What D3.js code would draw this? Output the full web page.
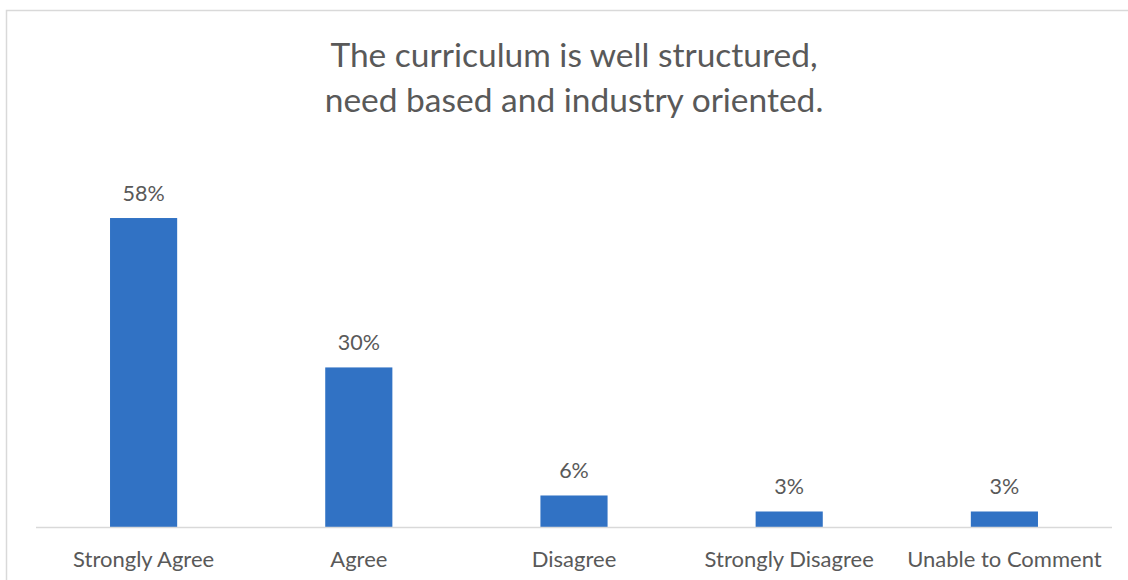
<!DOCTYPE html>
<html>
<head>
<meta charset="utf-8">
<script src="https://cdn.jsdelivr.net/npm/d3@7"></script>
<style>
  html, body { margin: 0; padding: 0; background: #ffffff; }
  svg { display: block; }
  text { font-family: Lato, "Open Sans", sans-serif; fill: #595959; }
</style>
</head>
<body>
<svg id="chart" width="1128" height="580"></svg>
<script>
const categories = ["Strongly Agree", "Agree", "Disagree", "Strongly Disagree", "Unable to Comment"];
const values = [58, 30, 6, 3, 3];
const valueLabels = ["58%", "30%", "6%", "3%", "3%"];
const titleLines = ["The curriculum is well structured,", "need based and industry oriented."];

const W = 1128, H = 580;
const plot = { left: 36, right: 1112, top: 154, bottom: 527.5 };

const svg = d3.select("#chart");

// chart border
svg.append("rect")
  .attr("x", 6.5).attr("y", 10.5)
  .attr("width", W + 20).attr("height", H + 20)
  .attr("fill", "none").attr("stroke", "#d9d9d9").attr("stroke-width", 1.5);

const x = d3.scaleBand()
  .domain(categories)
  .range([plot.left, plot.right])
  .paddingInner(0.688)
  .paddingOuter(0.344);

const y = d3.scaleLinear()
  .domain([0, 70])
  .range([plot.bottom, plot.top]);

// title
const title = svg.append("text")
  .attr("text-anchor", "middle")
  .style("font-size", "33.5px");
title.selectAll("tspan")
  .data(titleLines)
  .join("tspan")
  .attr("x", (plot.left + plot.right) / 2)
  .attr("y", (d, i) => 67 + i * 45)
  .text(d => d);

// bars
svg.append("g").selectAll("rect")
  .data(categories)
  .join("rect")
  .attr("x", d => x(d))
  .attr("width", x.bandwidth())
  .attr("y", (d, i) => y(values[i]))
  .attr("height", (d, i) => y(0) - y(values[i]))
  .attr("fill", "#3172c4");

// baseline axis
const xAxis = d3.axisBottom(x).tickSize(0).tickPadding(0);
const gx = svg.append("g")
  .attr("transform", `translate(0,${plot.bottom})`)
  .call(xAxis);
gx.select(".domain").attr("stroke", "#d9d9d9").attr("stroke-width", 1.5)
  .attr("d", `M${plot.left},0H${plot.right}`);
gx.selectAll(".tick text")
  .attr("dy", null)
  .attr("y", 39)
  .style("font-size", "22px")
  .style("font-family", "Lato, 'Open Sans', sans-serif")
  .attr("fill", "#595959");

// value labels
svg.append("g").selectAll("text")
  .data(categories)
  .join("text")
  .attr("x", d => x(d) + x.bandwidth() / 2)
  .attr("y", (d, i) => y(values[i]) - 17)
  .attr("text-anchor", "middle")
  .style("font-size", "21.5px")
  .text((d, i) => valueLabels[i]);
</script>
</body>
</html>
